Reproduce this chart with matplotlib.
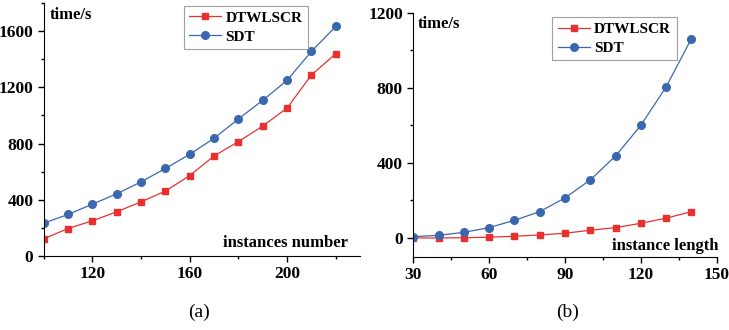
import numpy as np
import matplotlib.pyplot as plt
from matplotlib.ticker import MultipleLocator

plt.rcParams['font.family'] = ['Liberation Serif', 'DejaVu Serif']
plt.rcParams['font.weight'] = 'bold'

# (a) runtime vs number of instances
n_inst = [100, 110, 120, 130, 140, 150, 160, 170, 180, 190, 200, 210, 220]
dtw_a = [123, 196, 251, 315, 386, 462, 573, 712, 814, 925, 1053, 1288, 1439]
sdt_a = [234, 296, 369, 443, 528, 623, 724, 838, 975, 1108, 1250, 1456, 1633]

# (b) runtime vs instance length
length = [30, 40, 50, 60, 70, 80, 90, 100, 110, 120, 130, 140]
dtw_b = [0, 0, 1, 4, 9, 16, 25, 41, 55, 78, 105, 140]
sdt_b = [7, 14, 30, 55, 94, 140, 213, 309, 436, 599, 804, 1060]

RED = "#e8312f"
BLUE = "#3a68b0"


def style_axis(ax):
    for s in ("top", "right"):
        ax.spines[s].set_visible(False)
    ax.tick_params(which="both", direction="out", labelsize=12.5, width=1)
    ax.tick_params(which="major", length=4)
    ax.tick_params(which="minor", length=2.5)
    for lab in ax.get_xticklabels() + ax.get_yticklabels():
        lab.set_fontweight("bold")


def draw(ax, x, d, s, xlabel, anchor, lab_xy):
    ax.plot(x, d, color=RED, lw=0.9, marker="s", ms=5, mfc=RED, mec=RED, label="DTWLSCR")
    ax.plot(x, s, color=BLUE, lw=0.9, marker="o", ms=5.5, mfc=BLUE, mec=BLUE, label="SDT")
    leg = ax.legend(loc="upper right", bbox_to_anchor=anchor, borderaxespad=0,
                    frameon=True, fancybox=False, handlelength=2.1, borderpad=0.35,
                    labelspacing=0.35, handletextpad=0.3,
                    prop={"weight": "bold", "size": 11})
    leg.get_frame().set_edgecolor("#888888")
    leg.get_frame().set_linewidth(0.8)
    ax.text(lab_xy[0], lab_xy[1], "time/s", transform=ax.transAxes, fontsize=12,
            fontweight="bold", ha="left", va="center")
    ax.text(lab_xy[2], lab_xy[3], xlabel, transform=ax.transAxes, fontsize=12,
            fontweight="bold", ha="right", va="center")


fig = plt.figure(figsize=(7.29, 3.30), dpi=100)
ax1 = fig.add_axes([0.060, 0.224, 0.434, 0.767])
ax2 = fig.add_axes([0.567, 0.222, 0.416, 0.740])

draw(ax1, n_inst, dtw_a, sdt_a, "instances number", (0.835, 0.99),
     (0.019, 0.953, 0.962, 0.051))
ax1.set_xlim(100, 230)
ax1.set_ylim(0, 1800)
ax1.xaxis.set_minor_locator(MultipleLocator(20))
ax1.set_xticks([120, 160, 200])
ax1.yaxis.set_minor_locator(MultipleLocator(200))
ax1.set_yticks([0, 400, 800, 1200, 1600])
style_axis(ax1)

draw(ax2, length, dtw_b, sdt_b, "instance length", (0.868, 0.982),
     (0.016, 0.954, 1.006, 0.044))
ax2.set_xlim(30, 150)
ax2.set_ylim(-100, 1200)
ax2.xaxis.set_major_locator(MultipleLocator(30))
ax2.xaxis.set_minor_locator(MultipleLocator(15))
ax2.yaxis.set_major_locator(MultipleLocator(400))
ax2.yaxis.set_minor_locator(MultipleLocator(200))
style_axis(ax2)

fig.text(0.273, 0.055, "(a)", fontsize=14, fontweight="normal", ha="center", va="center")
fig.text(0.779, 0.055, "(b)", fontsize=14, fontweight="normal", ha="center", va="center")

fig.savefig("out.png", dpi=100)
